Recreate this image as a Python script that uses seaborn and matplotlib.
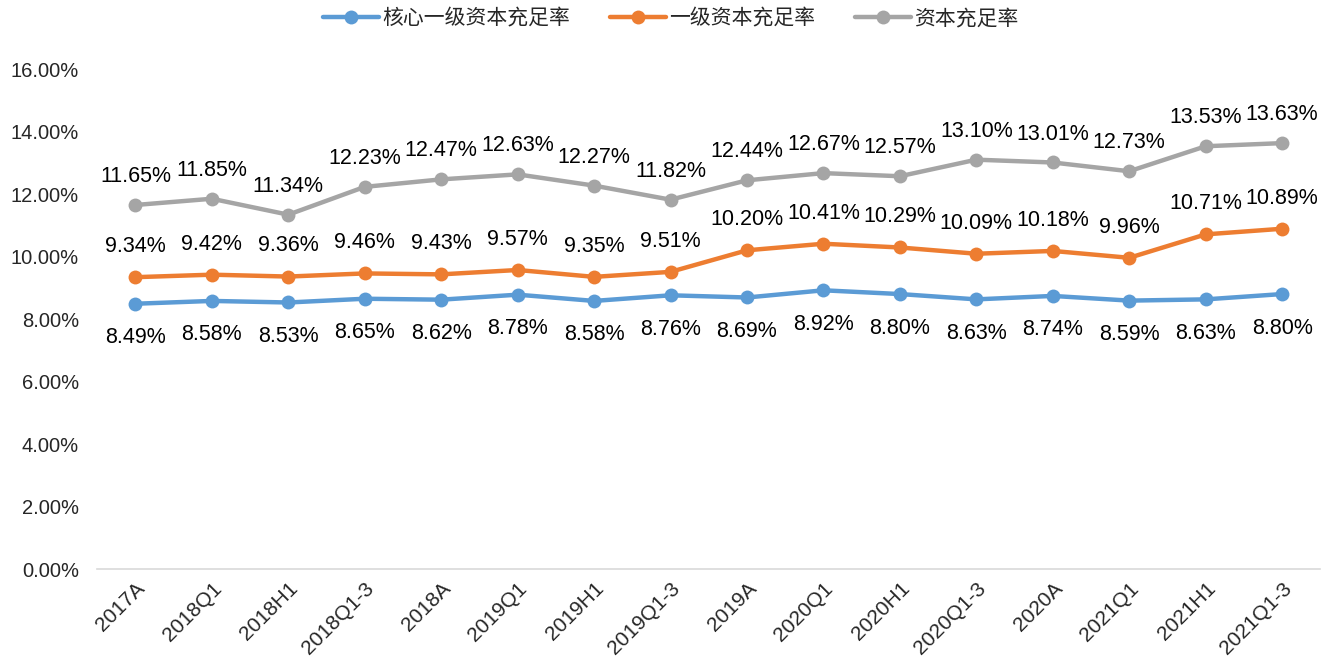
import matplotlib
matplotlib.use("Agg")
import matplotlib.pyplot as plt
import seaborn as sns
import pandas as pd
from matplotlib.ticker import FuncFormatter

categories = ["2017A", "2018Q1", "2018H1", "2018Q1-3", "2018A", "2019Q1", "2019H1", "2019Q1-3",
              "2019A", "2020Q1", "2020H1", "2020Q1-3", "2020A", "2021Q1", "2021H1", "2021Q1-3"]
core_tier1 = [8.49, 8.58, 8.53, 8.65, 8.62, 8.78, 8.58, 8.76, 8.69, 8.92, 8.80, 8.63, 8.74, 8.59, 8.63, 8.80]
tier1 = [9.34, 9.42, 9.36, 9.46, 9.43, 9.57, 9.35, 9.51, 10.20, 10.41, 10.29, 10.09, 10.18, 9.96, 10.71, 10.89]
total = [11.65, 11.85, 11.34, 12.23, 12.47, 12.63, 12.27, 11.82, 12.44, 12.67, 12.57, 13.10, 13.01, 12.73, 13.53, 13.63]
series_names = ["核心一级资本充足率", "一级资本充足率", "资本充足率"]
colors = ["#5B9BD5", "#ED7D31", "#A5A5A5"]

sns.set_theme(style="white")
plt.rcParams['font.family'] = ['Liberation Sans', 'Noto Sans CJK SC', 'DejaVu Sans']

rows = []
for name, vals in zip(series_names, [core_tier1, tier1, total]):
    for i, (c, v) in enumerate(zip(categories, vals)):
        rows.append({"x": i, "cat": c, "value": v, "series": name})
df = pd.DataFrame(rows)

fig = plt.figure(figsize=(13.31, 6.64), dpi=100)
ax = fig.add_axes([0.073, 0.143, 0.919, 0.753])

sns.lineplot(data=df, x="x", y="value", hue="series", hue_order=series_names,
             palette=colors, linewidth=3.2, marker="o", markersize=10,
             markeredgewidth=0, ax=ax, legend=True)

offsets = {series_names[0]: -24.5, series_names[1]: 22, series_names[2]: 20.5}
for name, vals in zip(series_names, [core_tier1, tier1, total]):
    for i, v in enumerate(vals):
        ax.annotate(f"{v:.2f}%", (i, v), xytext=(0, offsets[name]), textcoords="offset points",
                    ha="center", va="center", fontsize=15.5, color="#000000")

ax.set_xlim(-0.5, len(categories) - 0.5)
ax.set_ylim(0, 16)
ax.set_yticks([0, 2, 4, 6, 8, 10, 12, 14, 16])
ax.yaxis.set_major_formatter(FuncFormatter(lambda v, p: f"{v:.2f}%"))
ax.set_xticks(range(len(categories)))
ax.set_xticklabels(categories, rotation=45, ha="right", rotation_mode="anchor", fontsize=15)
ax.tick_params(axis="y", labelsize=14.5, length=0, pad=13)
ax.tick_params(axis="x", length=0, pad=7)
ax.set_xlabel("")
ax.set_ylabel("")
for s in ["top", "right", "left"]:
    ax.spines[s].set_visible(False)
ax.spines["bottom"].set_color("#D9D9D9")
ax.spines["bottom"].set_linewidth(1.2)
ax.grid(False)

handles, labels = ax.get_legend_handles_labels()
ax.legend(handles, labels, loc="center", bbox_to_anchor=(0.504, 1 - 18 / 664), bbox_transform=fig.transFigure,
          ncol=3, frameon=False, handlelength=2.7, handletextpad=0.15, columnspacing=1.9,
          borderpad=0, prop={'family': ['Noto Sans CJK SC'], 'size': 15})

fig.savefig("out.png", dpi=100)
